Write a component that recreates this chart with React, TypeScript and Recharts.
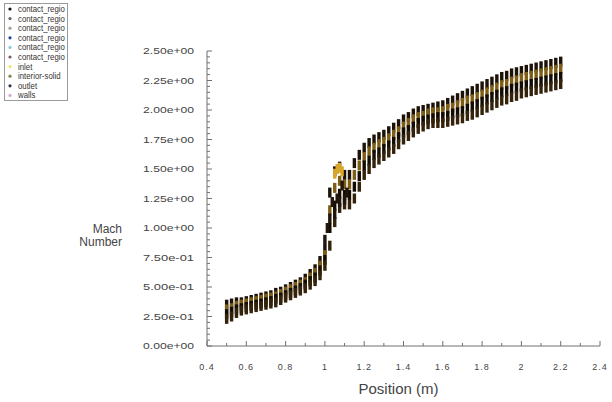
import React from 'react';
import { ScatterChart, Scatter, XAxis, YAxis } from 'recharts';

// sample positions along the duct (m)
const positions = [
  0.5, 0.525, 0.55, 0.575, 0.6, 0.625, 0.65, 0.675, 0.7, 0.725,
  0.75, 0.775, 0.8, 0.825, 0.85, 0.875, 0.9, 0.925, 0.95, 0.975,
  1.0, 1.025, 1.05, 1.075, 1.1, 1.125, 1.15, 1.175, 1.2, 1.225,
  1.25, 1.275, 1.3, 1.325, 1.35, 1.375, 1.4, 1.425, 1.45, 1.475,
  1.5, 1.525, 1.55, 1.575, 1.6, 1.625, 1.65, 1.675, 1.7, 1.725,
  1.75, 1.775, 1.8, 1.825, 1.85, 1.875, 1.9, 1.925, 1.95, 1.975,
  2.0, 2.025, 2.05, 2.075, 2.1, 2.125, 2.15, 2.175, 2.2,
];

// Mach number across the band (top to bottom)
const machUpper = [
  0.35, 0.36, 0.37, 0.37, 0.38, 0.39, 0.40, 0.41, 0.42, 0.43,
  0.45, 0.46, 0.48, 0.50, 0.52, 0.54, 0.57, 0.61, 0.65, 0.72,
  0.82, 1.30, 1.48, 1.52, 1.45, 1.45, 1.55, 1.62, 1.68, 1.72,
  1.75, 1.77, 1.79, 1.82, 1.85, 1.88, 1.92, 1.94, 1.97, 1.99,
  2.00, 2.01, 2.02, 2.03, 2.04, 2.06, 2.08, 2.10, 2.12, 2.14,
  2.16, 2.18, 2.20, 2.22, 2.24, 2.26, 2.28, 2.29, 2.31, 2.32,
  2.33, 2.34, 2.35, 2.36, 2.37, 2.38, 2.39, 2.40, 2.41,
];
const machMidHigh = [
  0.31, 0.32, 0.34, 0.35, 0.36, 0.37, 0.38, 0.39, 0.40, 0.41,
  0.42, 0.44, 0.46, 0.48, 0.50, 0.52, 0.54, 0.58, 0.62, 0.68,
  0.77, 1.15, 1.34, 1.40, 1.37, 1.37, 1.45, 1.53, 1.60, 1.65,
  1.68, 1.71, 1.73, 1.76, 1.79, 1.82, 1.86, 1.89, 1.92, 1.94,
  1.95, 1.97, 1.98, 1.98, 1.99, 2.01, 2.02, 2.04, 2.06, 2.08,
  2.09, 2.11, 2.13, 2.15, 2.17, 2.19, 2.21, 2.22, 2.24, 2.25,
  2.27, 2.28, 2.29, 2.30, 2.31, 2.32, 2.33, 2.34, 2.35,
];
const machMidLow = [
  0.27, 0.29, 0.31, 0.32, 0.33, 0.34, 0.35, 0.36, 0.37, 0.38,
  0.40, 0.41, 0.43, 0.45, 0.47, 0.49, 0.52, 0.55, 0.58, 0.64,
  0.73, 1.00, 1.19, 1.29, 1.28, 1.28, 1.35, 1.44, 1.53, 1.57,
  1.62, 1.64, 1.67, 1.70, 1.73, 1.77, 1.81, 1.83, 1.86, 1.89,
  1.91, 1.92, 1.93, 1.94, 1.94, 1.95, 1.97, 1.98, 1.99, 2.01,
  2.03, 2.05, 2.07, 2.09, 2.11, 2.13, 2.15, 2.16, 2.18, 2.19,
  2.20, 2.21, 2.22, 2.23, 2.24, 2.25, 2.26, 2.27, 2.28,
];
const machLower = [
  0.23, 0.25, 0.28, 0.30, 0.31, 0.32, 0.33, 0.34, 0.35, 0.36,
  0.37, 0.39, 0.41, 0.43, 0.45, 0.47, 0.49, 0.52, 0.55, 0.60,
  0.68, 0.85, 1.05, 1.17, 1.20, 1.20, 1.25, 1.35, 1.45, 1.50,
  1.55, 1.58, 1.61, 1.64, 1.67, 1.71, 1.75, 1.78, 1.81, 1.84,
  1.86, 1.88, 1.89, 1.89, 1.89, 1.90, 1.91, 1.92, 1.93, 1.95,
  1.96, 1.98, 2.00, 2.02, 2.04, 2.06, 2.08, 2.09, 2.11, 2.12,
  2.14, 2.15, 2.16, 2.17, 2.18, 2.19, 2.20, 2.21, 2.22,
];

// extra points filling the steep rise at the throat
const throatPositions = [1.0, 1.0125, 1.025, 1.0375, 1.05, 1.0625, 1.075, 1.0875, 1.1, 1.1125];
const throatMach = [0.9, 1.0, 1.08, 1.22, 1.12, 1.25, 1.22, 1.36, 1.24, 1.3];

// yellow bump near the throat
const inletPositions = [1.05, 1.0625, 1.075, 1.0875];
const inletMach = [1.46, 1.5, 1.51, 1.48];

const zoneNames = [
  'contact_regio', 'contact_regio', 'contact_regio', 'contact_regio', 'contact_regio',
  'contact_regio', 'inlet', 'interior-solid', 'outlet', 'walls',
];
const zoneColors = [
  '#111111', '#6e6258', '#9aa892', '#1d3fa8', '#8cc8e6',
  '#7d5a66', '#f2e36a', '#8a8454', '#3c2a4e', '#d8a8d8',
];

const yMajor = [0, 0.25, 0.5, 0.75, 1, 1.25, 1.5, 1.75, 2, 2.25, 2.5];
const xMajor = [0.4, 0.6, 0.8, 1, 1.2, 1.4, 1.6, 1.8, 2, 2.2, 2.4];

const minorBetween = (major: number[], parts: number) => {
  const out: number[] = [];
  for (let i = 0; i < major.length - 1; i++) {
    const step = (major[i + 1] - major[i]) / parts;
    for (let k = 1; k < parts; k++) out.push(+(major[i] + step * k).toFixed(4));
  }
  return out;
};
const yTicks = [...yMajor, ...minorBetween(yMajor, 5)].sort((a, b) => a - b);
const xTicks = [...xMajor, ...minorBetween(xMajor, 2)].sort((a, b) => a - b);

const toRows = (xs: number[], ys: number[]) => xs.map((x, i) => ({ x, y: ys[i] }));

const fmtExp = (v: number) => {
  const [m, e] = v.toExponential(2).split('e');
  const n = parseInt(e, 10);
  return `${m}e${n < 0 ? '-' : '+'}${String(Math.abs(n)).padStart(2, '0')}`;
};

const FONT = '"Liberation Sans", Arial, sans-serif';
const AXIS = '#707070';

const YTick = (props: any) => {
  const { x, y, payload } = props;
  const major = yMajor.includes(payload.value);
  return (
    <g>
      <line x1={x} x2={x + (major ? 5 : 3)} y1={y} y2={y} stroke={AXIS} strokeWidth={1} />
      {major && (
        <text x={x - 13} y={y + 3} textAnchor="end" fontSize={9} fontFamily={FONT} fill="#444"
          textLength={51} lengthAdjust="spacingAndGlyphs">
          {fmtExp(payload.value)}
        </text>
      )}
    </g>
  );
};

const XTick = (props: any) => {
  const { x, y, payload } = props;
  const major = xMajor.includes(payload.value);
  return (
    <g>
      <line x1={x} x2={x} y1={y} y2={y - (major ? 5 : 3)} stroke={AXIS} strokeWidth={1} />
      {major && (
        <text x={x} y={y + 24} textAnchor="middle" fontSize={9} fontFamily={FONT} fill="#444" letterSpacing={1}>
          {String(payload.value)}
        </text>
      )}
    </g>
  );
};

const dash = (props: any) => (
  <rect x={props.cx - 1.7} y={props.cy - 5} width={3.4} height={10} fill={props.fill} />
);

const App: React.FC = () => {
  return (
    <div style={{ position: 'absolute', left: 0, top: 0, width: 612, height: 402, background: '#fff' }}>
      <ScatterChart width={612} height={402} margin={{ top: 51, right: 12, bottom: 0, left: 0 }}>
        <XAxis
          type="number"
          dataKey="x"
          domain={[0.4, 2.4]}
          ticks={xTicks}
          interval={0}
          tick={<XTick />}
          tickLine={false}
          tickSize={0}
          tickMargin={0}
          height={56}
          stroke={AXIS}
          allowDataOverflow
          label={{ value: 'Position (m)', position: 'insideBottom', offset: 8, dx: -5, fontSize: 15, fontFamily: FONT, fill: '#444' }}
        />
        <YAxis
          type="number"
          dataKey="y"
          domain={[0, 2.5]}
          ticks={yTicks}
          interval={0}
          tick={<YTick />}
          tickLine={false}
          tickSize={0}
          tickMargin={0}
          width={207}
          stroke={AXIS}
          allowDataOverflow
        />
        <Scatter name="contact_regio" data={toRows(positions, machUpper)} fill="#1c1208" shape={dash} isAnimationActive={false} />
        <Scatter name="interior-solid" data={toRows(positions, machMidHigh)} fill="#7e5e16" shape={dash} isAnimationActive={false} />
        <Scatter name="contact_regio" data={toRows(positions, machMidLow)} fill="#130c05" shape={dash} isAnimationActive={false} />
        <Scatter name="outlet" data={toRows(positions, machLower)} fill="#34230a" shape={dash} isAnimationActive={false} />
        <Scatter name="contact_regio" data={toRows(throatPositions, throatMach)} fill="#21160a" shape={dash} isAnimationActive={false} />
        <Scatter name="inlet" data={toRows(inletPositions, inletMach)} fill="#d8a62a" shape={dash} isAnimationActive={false} />
      </ScatterChart>

      <div style={{ position: 'absolute', left: 60, top: 223, width: 62, textAlign: 'right', fontFamily: FONT, fontSize: 12, lineHeight: '13px', color: '#444' }}>
        <div>Mach</div>
        <div>Number</div>
      </div>

      <svg width={70} height={104} style={{ position: 'absolute', left: 0, top: 0 }}>
        <rect x={4.5} y={3.5} width={63} height={97} fill="#fff" stroke="#9a9a9a" strokeWidth={1} />
        {zoneNames.map((name, i) => (
          <g key={i}>
            <circle cx={10} cy={9 + i * 9.6} r={1.6} fill={zoneColors[i]} />
            <text x={0} y={12 + i * 9.6} fontSize={8.5} fontFamily={FONT} fill="#333"
              transform={`translate(18,0) scale(0.92,1)`}>
              {name}
            </text>
          </g>
        ))}
      </svg>
    </div>
  );
};

export default App;
